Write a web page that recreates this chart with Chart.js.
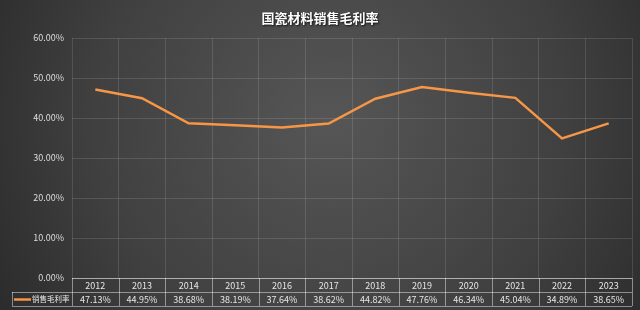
<!DOCTYPE html>
<html>
<head>
<meta charset="utf-8">
<script src="https://cdn.jsdelivr.net/npm/chart.js@4/dist/chart.umd.min.js"></script>
<style>
  html, body { margin: 0; padding: 0; background: #333; }
  #wrap { width: 640px; height: 310px; }
</style>
</head>
<body>
<div id="wrap"><canvas id="myChart" width="640" height="310"></canvas></div>
<script>
var chartTitle = '国瓷材料销售毛利率';
var seriesName = '销售毛利率';
var years = ['2012', '2013', '2014', '2015', '2016', '2017', '2018', '2019', '2020', '2021', '2022', '2023'];
var margins = [47.13, 44.95, 38.68, 38.19, 37.64, 38.62, 44.82, 47.76, 46.34, 45.04, 34.89, 38.65];

var font = '"Microsoft YaHei", "Noto Sans CJK SC", "Noto Sans", sans-serif';
var lineColor = '#f79646';
var gridColor = 'rgba(255,255,255,0.12)';
var tableLine = 'rgba(255,255,255,0.45)';

// background + title
var backdrop = {
  id: 'backdrop',
  beforeDraw: function(chart) {
    var c = chart.ctx;
    var g = c.createRadialGradient(330, 120, 10, 330, 120, 420);
    g.addColorStop(0, '#555555');
    g.addColorStop(0.55, '#404040');
    g.addColorStop(1, '#262626');
    c.save();
    c.fillStyle = g;
    c.fillRect(0, 0, chart.width, chart.height);
    c.restore();
  },
  afterDraw: function(chart) {
    var c = chart.ctx;
    c.save();
    c.font = 'bold 13px ' + font;
    c.textAlign = 'center';
    c.textBaseline = 'middle';
    c.shadowColor = 'rgba(0,0,0,0.8)';
    c.shadowOffsetX = 1;
    c.shadowOffsetY = 1;
    c.shadowBlur = 2;
    c.fillStyle = '#ffffff';
    c.fillText(chartTitle, 320, 18);
    c.restore();
  }
};

// data table under the x axis
var dataTable = {
  id: 'dataTable',
  afterDraw: function(chart) {
    var c = chart.ctx;
    var x = chart.scales.x;
    var area = chart.chartArea;
    var step = x.getPixelForValue(1) - x.getPixelForValue(0);
    var top = area.bottom, mid = top + 14, bot = mid + 14;
    var left = area.left, right = area.right;
    var legLeft = 12;

    c.save();
    c.strokeStyle = tableLine;
    c.lineWidth = 1;
    c.beginPath();
    c.moveTo(left, top + 0.5); c.lineTo(right, top + 0.5);
    c.moveTo(legLeft, mid + 0.5); c.lineTo(right, mid + 0.5);
    c.moveTo(legLeft, bot + 0.5); c.lineTo(right, bot + 0.5);
    c.moveTo(legLeft + 0.5, mid); c.lineTo(legLeft + 0.5, bot);
    for (var i = 0; i <= years.length; i++) {
      var bx = Math.round(x.getPixelForValue(i) - step / 2) + 0.5;
      c.moveTo(bx, top); c.lineTo(bx, bot);
    }
    c.stroke();

    c.font = '9px ' + font;
    c.fillStyle = '#e6e6e6';
    c.textAlign = 'center';
    c.textBaseline = 'middle';
    years.forEach(function(y, i) {
      var cx = x.getPixelForValue(i);
      c.fillText(y, cx, top + 7.5);
      c.fillText(margins[i].toFixed(2) + '%', cx, mid + 7.5);
    });

    c.strokeStyle = lineColor;
    c.lineWidth = 2.5;
    c.beginPath();
    c.moveTo(14, mid + 7.5); c.lineTo(31, mid + 7.5);
    c.stroke();
    c.font = '7.5px ' + font;
    c.textAlign = 'left';
    c.fillText(seriesName, 32, mid + 7.5);
    c.restore();
  }
};

var ctx = document.getElementById('myChart').getContext('2d');
var myChart = new Chart(ctx, {
  type: 'line',
  data: {
    labels: years,
    datasets: [{
      label: seriesName,
      data: margins,
      borderColor: lineColor,
      borderWidth: 2.5,
      pointRadius: 0,
      tension: 0,
      fill: false
    }]
  },
  options: {
    responsive: false,
    animation: false,
    layout: { padding: { left: 0, right: 8, top: 38, bottom: 32 } },
    plugins: {
      legend: { display: false },
      title: { display: false },
      tooltip: { enabled: false }
    },
    scales: {
      x: {
        offset: true,
        grid: { offset: true, color: gridColor, drawTicks: false },
        border: { color: gridColor },
        ticks: { display: false },
        afterFit: function(s) { s.height = 0; }
      },
      y: {
        min: 0,
        max: 60,
        grid: { color: gridColor, drawTicks: false },
        border: { display: false },
        ticks: {
          stepSize: 10,
          padding: 8,
          color: '#dddddd',
          font: { family: font, size: 9 },
          callback: function(v) { return v.toFixed(2) + '%'; }
        },
        afterFit: function(s) { s.width = 72; }
      }
    }
  },
  plugins: [backdrop, dataTable]
});
</script>
</body>
</html>
